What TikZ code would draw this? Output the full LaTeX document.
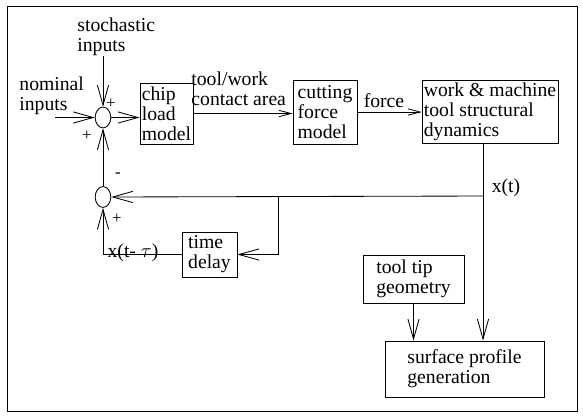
\documentclass[tikz,border=0pt]{standalone}
\usepackage{fontspec}
\setmainfont{Liberation Serif}
\usetikzlibrary{arrows.meta, shapes.geometric}

\begin{document}
\begin{tikzpicture}[
    x=0.025cm, y=-0.025cm,
    line width=0.6pt,
    font=\fontsize{14}{14.2}\selectfont,
    block/.style={rectangle, draw, align=left, inner sep=1pt},
    sumnode/.style={ellipse, draw, minimum width=0.39cm, minimum height=0.52cm, inner sep=0pt},
    lbl/.style={inner sep=0pt, align=left},
    sign/.style={inner sep=0pt, font=\fontsize{12}{12}\selectfont},
    arr/.style={-{Straight Barb[length=5mm, width=2.8mm]}},
    arrsmall/.style={-{Straight Barb[length=3mm, width=1.6mm]}}
]
\useasboundingbox (0,0) rectangle (583,416);

% outer frame
\draw (7,6) rectangle (577,411);

% summing junctions
\node[sumnode] (sum1) at (103,117.5) {};
\node[sumnode] (sum2) at (103,197) {};

% blocks
\node[block, minimum width=1.325cm, minimum height=1.525cm] (chip) at (166.5,113.5) {chip\\load\\model};
\node[block, minimum width=1.6cm, minimum height=1.6cm] (cut) at (325,112) {cutting\\force\\model};
\node[block, minimum width=3.4cm, minimum height=1.575cm] (work) at (490,111.5) {work \& machine\\tool structural\\dynamics};
\node[block, minimum width=1.375cm, minimum height=1.125cm] (delay) at (209.5,254.5) {time\\delay};
\node[block, minimum width=2.525cm, minimum height=1.2cm] (tip) at (413.5,279) {tool tip\\geometry};
\node[block, minimum width=3.975cm, minimum height=1.4cm] (surf) at (464.5,369) {surface profile\\generation};

% labels
\node[lbl, anchor=north west] (stoch) at (77,17) {stochastic\\inputs};
\node[lbl, anchor=north west] (nom) at (19,76) {nominal\\inputs};
\node[lbl, anchor=north west] (contact) at (191,71) {tool/work\\contact area};
\node[lbl] (forcelbl) at (384,101) {force};
\node[lbl] (xtlbl) at (506,188) {x(t)};
\node[lbl] (xtau) at (133,253) {x(t- $\tau$)};

% signs
\node[sign] (plusA) at (111,104) {+};
\node[sign] (plusB) at (87,136) {+};
\node[sign] (minusC) at (118,175) {-};
\node[sign] (plusD) at (117,219) {+};

% branch points
\coordinate (nomin) at (55,117.5);
\coordinate (xt) at (483,196);
\coordinate (br) at (278,196);

% forward path
\draw[arr] (sum1 |- stoch.south) -- (sum1.north);
\draw[arr] (nomin) -- (sum1.west);
\draw[arr] (sum1.east) -- (sum1.east -| chip.west);
\draw[arrsmall] (chip.east) -- (chip.east -| cut.west);
\draw[arrsmall] (cut.east) -- (cut.east -| work.west);

% feedback
\draw[arr] (xt |- work.south) -- (xt |- surf.north);
\draw[arr] (xt) -- (sum2.east);
\draw[arr] (br) |- (delay.east);
\draw[arr] (delay.west) -| (sum2.south);
\draw[arr] (sum2.north) -- (sum1.south);

% surface profile
\draw[arr] (tip.south) -- (tip.south |- surf.north);

\end{tikzpicture}
\end{document}
